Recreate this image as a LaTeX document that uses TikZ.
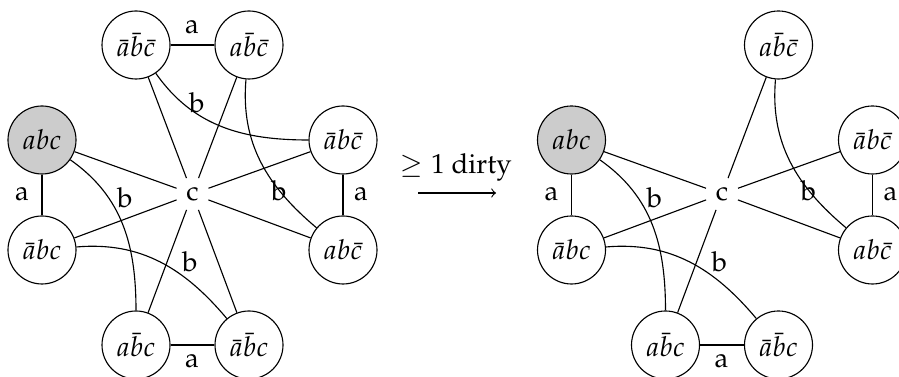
\documentclass[tikz,border=0pt]{standalone}
\usepackage[T1]{fontenc}
\usepackage{mathpazo}
\begin{document}
\begin{tikzpicture}[x=0.4pt,y=0.4pt,
  font=\fontsize{11}{13}\selectfont,
  st/.style={circle, draw, line width=0.45pt, minimum size=27.2pt, inner sep=0pt},
  hot/.style={st, fill=gray!40},
  ctr/.style={circle, minimum size=13.2pt, inner sep=0pt},
  lbl/.style={inner sep=0pt},
  edge/.style={line width=0.45pt}]
\useasboundingbox (0,0) rectangle (899,-377);
\clip (0,0) rectangle (899,-377);

% ---------- left graph ----------
\node[ctr] (lc) at (192.5,-194) {c};
\node[st]  (lTL) at (136,-45)  {$\bar a\bar b\bar c$};
\node[st]  (lTR) at (249,-45)  {$a\bar b\bar c$};
\node[st]  (lRT) at (343,-140) {$\bar a b\bar c$};
\node[st]  (lRB) at (343,-250) {$ab\bar c$};
\node[st]  (lBR) at (249,-345) {$\bar a\bar b c$};
\node[st]  (lBL) at (136,-345) {$a\bar b c$};
\node[st]  (lLB) at (42,-250)  {$\bar a bc$};
\node[hot] (lLT) at (42,-140)  {$abc$};

\foreach \n in {lTL,lTR,lRT,lRB,lBR,lBL,lLB,lLT}
  \draw[edge] (\n) -- (lc);
\draw[edge] (lTL) -- (lTR);
\draw[edge] (lRT) -- (lRB);
\draw[edge] (lBL) -- (lBR);
\draw[edge] (lLT) -- (lLB);
\draw[edge] (lTL) to[out=-55,in=180] (lRT);
\draw[edge] (lTR) to[out=-95,in=140] (lRB);
\draw[edge] (lLT) to[out=-35,in=90] (lBL);
\draw[edge] (lLB) to[out=5,in=130] (lBR);

\node[lbl] (la1) at (192,-27)  {a};
\node[lbl] (la2) at (361,-194) {a};
\node[lbl] (la3) at (192,-361) {a};
\node[lbl] (la4) at (22,-194)  {a};
\node[lbl] (lb1) at (197,-103) {b};
\node[lbl] (lb2) at (279,-191) {b};
\node[lbl] (lb3) at (125,-198) {b};
\node[lbl] (lb4) at (190,-262) {b};

% ---------- transition arrow ----------
\coordinate (arrA) at (418,-193);
\coordinate (arrB) at (496,-193);
\draw[edge,->] (arrA) -- (arrB);
\node[lbl] (arrL) at (456,-167) {$\geq 1$ dirty};

% ---------- right graph ----------
\begin{scope}[xshift=529.5*0.4pt]
\node[ctr] (rc) at (192.5,-194) {c};
\node[st]  (rTR) at (249,-45)  {$a\bar b\bar c$};
\node[st]  (rRT) at (343,-140) {$\bar a b\bar c$};
\node[st]  (rRB) at (343,-250) {$ab\bar c$};
\node[st]  (rBR) at (249,-345) {$\bar a\bar b c$};
\node[st]  (rBL) at (136,-345) {$a\bar b c$};
\node[st]  (rLB) at (42,-250)  {$\bar a bc$};
\node[hot] (rLT) at (42,-140)  {$abc$};

\foreach \n in {rTR,rRT,rRB,rBL,rLB,rLT}
  \draw[edge] (\n) -- (rc);
\draw[edge] (rRT) -- (rRB);
\draw[edge] (rBL) -- (rBR);
\draw[edge] (rLT) -- (rLB);
\draw[edge] (rTR) to[out=-95,in=140] (rRB);
\draw[edge] (rLT) to[out=-35,in=90] (rBL);
\draw[edge] (rLB) to[out=5,in=130] (rBR);

\node[lbl] (ra2) at (361,-194) {a};
\node[lbl] (ra3) at (192,-361) {a};
\node[lbl] (ra4) at (22,-194)  {a};
\node[lbl] (rb2) at (279,-191) {b};
\node[lbl] (rb3) at (125,-198) {b};
\node[lbl] (rb4) at (190,-262) {b};
\end{scope}
\end{tikzpicture}
\end{document}
